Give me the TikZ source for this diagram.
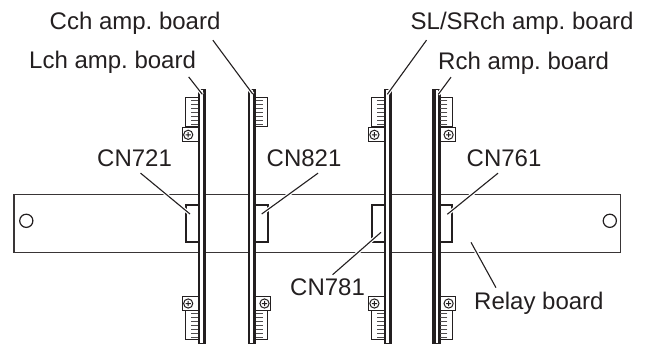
\documentclass[tikz,border=0pt]{standalone}
\usepackage{fontspec}
\setmainfont{Liberation Sans}
\usetikzlibrary{calc}
\definecolor{inkline}{HTML}{231F20}
\tikzset{
    boardlabel/.style={anchor=base west, inner sep=0pt, text=inkline, font=\fontsize{24}{28}\selectfont\frenchspacing},
    thinwall/.style={draw=inkline, line width=2.4},
    thickwall/.style={draw=inkline, line width=3.3},
    wallcap/.style={draw=inkline, line width=1.5},
    sinkbox/.style={draw=inkline, line width=1, fill=white},
    ridge/.style={draw=inkline!80, line width=1},
    socket/.style={draw=inkline, line width=2},
    leader/.style={draw=inkline, line width=1.1, preaction={draw=white, line width=3.6}}
}
\begin{document}
\begin{tikzpicture}[x=1pt, y=-1pt]
    \useasboundingbox (0,0) rectangle (652,345);

    % Relay board
    \draw[draw=inkline!90, line width=1.1] (14,194.3) rectangle (620.5,252.6);
    \draw[draw=inkline, line width=1.2] (26.3,220.8) circle [radius=6.6];
    \draw[draw=inkline, line width=1.2] (609.8,220.8) circle [radius=6.6];

    % Lch amp. board
    \begin{scope}[shift={(199.2,0)}]
        \fill[white] (0,89.5) rectangle (5.2,345);
        \draw[socket] (0,205) -- (-13.6,205) -- (-13.6,241.6) -- (0,241.6);
        \draw[thinwall] (0,89) -- (0,344);
        \draw[thickwall] (5.2,89) -- (5.2,344);
        \draw[wallcap] (0,89.5) -- (5.2,89.5) (0,343.5) -- (5.2,343.5);
        \draw[sinkbox] (-13.4,97) rectangle (-1,126.8);
        \draw[ridge] (-8,100.5) -- (-1,100.5) (-8,104.5) -- (-1,104.5) (-8,108.5) -- (-1,108.5) (-8,112.5) -- (-1,112.5) (-8,116.5) -- (-1,116.5) (-8,120.5) -- (-1,120.5) (-8,124.5) -- (-1,124.5);
        \draw[sinkbox] (-17,127) rectangle (-1,141.6);
        \draw[sinkbox] (-11,134.8) circle [radius=4.6] (-13.6,134.8) -- (-8.4,134.8) (-11,132.2) -- (-11,137.4);
        \draw[sinkbox] (-17,296.7) rectangle (-1,310);
        \draw[sinkbox] (-11,303.5) circle [radius=4.6] (-13.6,303.5) -- (-8.4,303.5) (-11,300.9) -- (-11,306.1);
        \draw[sinkbox] (-13.4,310) rectangle (-1,339);
        \draw[ridge] (-8,313.5) -- (-1,313.5) (-8,317.5) -- (-1,317.5) (-8,321.5) -- (-1,321.5) (-8,325.5) -- (-1,325.5) (-8,329.5) -- (-1,329.5) (-8,333.5) -- (-1,333.5) (-8,337) -- (-1,337);
    \end{scope}

    % Cch amp. board
    \begin{scope}[shift={(254.7,0)}, xscale=-1]
        \fill[white] (0,89.5) rectangle (6,345);
        \draw[socket] (0,205) -- (-13.2,205) -- (-13.2,241.6) -- (0,241.6);
        \draw[thickwall] (0,89) -- (0,344);
        \draw[thinwall] (6,89) -- (6,344);
        \draw[wallcap] (0,89.5) -- (6,89.5) (0,343.5) -- (6,343.5);
        \draw[sinkbox] (-13.2,97) rectangle (-1,126.8);
        \draw[ridge] (-8,100.5) -- (-1,100.5) (-8,104.5) -- (-1,104.5) (-8,108.5) -- (-1,108.5) (-8,112.5) -- (-1,112.5) (-8,116.5) -- (-1,116.5) (-8,120.5) -- (-1,120.5) (-8,124.5) -- (-1,124.5);
        \draw[sinkbox] (-13.2,310) rectangle (-1,339);
        \draw[ridge] (-8,313.5) -- (-1,313.5) (-8,317.5) -- (-1,317.5) (-8,321.5) -- (-1,321.5) (-8,325.5) -- (-1,325.5) (-8,329.5) -- (-1,329.5) (-8,333.5) -- (-1,333.5) (-8,337) -- (-1,337);
        \draw[sinkbox] (-16,296.7) rectangle (-1,310);
        \draw[sinkbox] (-9.8,303.5) circle [radius=4.6] (-12.4,303.5) -- (-7.2,303.5) (-9.8,300.9) -- (-9.8,306.1);
    \end{scope}

    % SL/SRch amp. board
    \begin{scope}[shift={(385,0)}]
        \fill[white] (0,89.5) rectangle (5.7,345);
        \draw[socket] (0,205) -- (-12.6,205) -- (-12.6,241.6) -- (0,241.6);
        \draw[thinwall] (0,89) -- (0,344);
        \draw[thickwall] (5.7,89) -- (5.7,344);
        \draw[wallcap] (0,89.5) -- (5.7,89.5) (0,343.5) -- (5.7,343.5);
        \draw[sinkbox] (-13.4,97) rectangle (-1,126.8);
        \draw[ridge] (-8,100.5) -- (-1,100.5) (-8,104.5) -- (-1,104.5) (-8,108.5) -- (-1,108.5) (-8,112.5) -- (-1,112.5) (-8,116.5) -- (-1,116.5) (-8,120.5) -- (-1,120.5) (-8,124.5) -- (-1,124.5);
        \draw[sinkbox] (-16.5,127) rectangle (-1,141.6);
        \draw[sinkbox] (-10.6,134.8) circle [radius=4.6] (-13.2,134.8) -- (-8,134.8) (-10.6,132.2) -- (-10.6,137.4);
        \draw[sinkbox] (-16.5,296.7) rectangle (-1,310);
        \draw[sinkbox] (-10.6,303.5) circle [radius=4.6] (-13.2,303.5) -- (-8,303.5) (-10.6,300.9) -- (-10.6,306.1);
        \draw[sinkbox] (-13.4,310) rectangle (-1,339);
        \draw[ridge] (-8,313.5) -- (-1,313.5) (-8,317.5) -- (-1,317.5) (-8,321.5) -- (-1,321.5) (-8,325.5) -- (-1,325.5) (-8,329.5) -- (-1,329.5) (-8,333.5) -- (-1,333.5) (-8,337) -- (-1,337);
    \end{scope}

    % Rch amp. board
    \begin{scope}[shift={(439.3,0)}, xscale=-1]
        \fill[white] (0,89.5) rectangle (5.3,345);
        \draw[socket] (0,205) -- (-12.8,205) -- (-12.8,241.6) -- (0,241.6);
        \draw[thinwall] (0,89) -- (0,344);
        \draw[thickwall] (5.3,89) -- (5.3,344);
        \draw[wallcap] (0,89.5) -- (5.3,89.5) (0,343.5) -- (5.3,343.5);
        \draw[sinkbox] (-13,97) rectangle (-1,126.8);
        \draw[ridge] (-8,100.5) -- (-1,100.5) (-8,104.5) -- (-1,104.5) (-8,108.5) -- (-1,108.5) (-8,112.5) -- (-1,112.5) (-8,116.5) -- (-1,116.5) (-8,120.5) -- (-1,120.5) (-8,124.5) -- (-1,124.5);
        \draw[sinkbox] (-16,127) rectangle (-1,141.6);
        \draw[sinkbox] (-9.3,134.8) circle [radius=4.6] (-11.9,134.8) -- (-6.7,134.8) (-9.3,132.2) -- (-9.3,137.4);
        \draw[sinkbox] (-16,296.7) rectangle (-1,310);
        \draw[sinkbox] (-9.3,303.5) circle [radius=4.6] (-11.9,303.5) -- (-6.7,303.5) (-9.3,300.9) -- (-9.3,306.1);
        \draw[sinkbox] (-13,310) rectangle (-1,339);
        \draw[ridge] (-8,313.5) -- (-1,313.5) (-8,317.5) -- (-1,317.5) (-8,321.5) -- (-1,321.5) (-8,325.5) -- (-1,325.5) (-8,329.5) -- (-1,329.5) (-8,333.5) -- (-1,333.5) (-8,337) -- (-1,337);
    \end{scope}

    % Labels
    \node[boardlabel] (cchlabel) at (49.5,30) {Cch amp. board};
    \node[boardlabel] (lchlabel) at (29,68) {Lch amp. board};
    \node[boardlabel] (slsrlabel) at (410.5,30) {SL/SRch amp. board};
    \node[boardlabel] (rchlabel) at (438,69) {Rch amp. board};
    \node[boardlabel] (cn721) at (97,166.7) {CN721};
    \node[boardlabel] (cn821) at (266.5,166.7) {CN821};
    \node[boardlabel] (cn761) at (466.5,166.7) {CN761};
    \node[boardlabel] (cn781) at (290,295.7) {CN781};
    \node[boardlabel] (relaylabel) at (474,309.3) {Relay board};

    % Tips of the leaders
    \coordinate (cchtip) at (252.7,94);
    \coordinate (lchtip) at (202.3,94.3);
    \coordinate (slsrtip) at (387.3,94.3);
    \coordinate (rchtip) at (438.3,94.3);
    \coordinate (cn721tip) at (190,214);
    \coordinate (cn821tip) at (261.7,214);
    \coordinate (cn761tip) at (447.3,214.3);
    \coordinate (cn781tip) at (381,232.3);
    \coordinate (relaytip) at (471,242.3);

    % Leaders
    \draw[leader] ($(cchlabel.south east)+(-7.8,5)$) -- (cchtip);
    \draw[leader] ($(lchlabel.south east)+(-7.5,3.7)$) -- (lchtip);
    \draw[leader] ($(slsrlabel.south west)+(16,5)$) -- (slsrtip);
    \draw[leader] ($(rchlabel.south west)+(13,3)$) -- (rchtip);
    \draw[leader] ($(cn721.south)+(6,6)$) -- (cn721tip);
    \draw[leader] ($(cn821.south)+(14,6)$) -- (cn821tip);
    \draw[leader] ($(cn761.south)+(-6,6)$) -- (cn761tip);
    \draw[leader] ($(cn781.north)+(5,-4)$) -- (cn781tip);
    \draw[leader] ($(relaylabel.north west)+(22,-4)$) -- (relaytip);
\end{tikzpicture}
\end{document}
